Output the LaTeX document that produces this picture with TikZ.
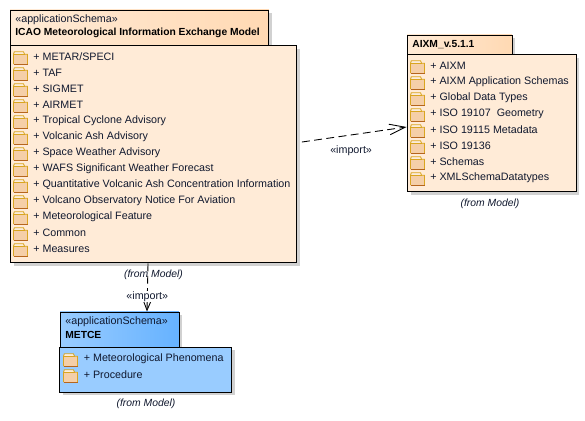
\documentclass[tikz,border=0pt]{standalone}
\usepackage{fontspec}
\setmainfont{Liberation Sans}
\usepackage{xcolor}
\usetikzlibrary{arrows.meta, shadows, positioning}

\definecolor{orangebody}{HTML}{FFEBD7}
\definecolor{orangetab}{HTML}{FFD9B3}
\definecolor{bluebody}{HTML}{99CCFF}
\definecolor{bluetab}{HTML}{66B2FF}
\definecolor{foldertop}{HTML}{D9A520}
\definecolor{folderbottom}{HTML}{B5651D}
\definecolor{folderfill}{HTML}{F5CFA8}
\definecolor{labeltext}{HTML}{10182E}

\tikzset{
    pkgshape/.style={draw, line width=0.55pt, inner sep=0pt,
        drop shadow={shadow xshift=0.07cm, shadow yshift=-0.07cm, fill=black!18, opacity=1}},
    rowtext/.style={anchor=west, inner sep=0pt, font=\fontsize{6.1}{7.2}\selectfont, text=labeltext},
    tabtext/.style={anchor=west, inner sep=0pt, font=\fontsize{6.1}{7.2}\selectfont, text=labeltext},
    titletext/.style={anchor=west, inner sep=0pt, font=\fontsize{5.85}{7}\selectfont\bfseries},
    fromtext/.style={inner sep=0pt, font=\fontsize{5.9}{7}\selectfont\itshape, text=labeltext},
    importline/.style={draw, line width=0.5pt, dash pattern=on 4.5pt off 2.5pt},
    folder/.pic={
        \fill[folderfill] (0, -2.5) rectangle (14, 7.5);
        \fill[white!60!folderfill] (0.5, -5) rectangle (10.5, -2.5);
        \draw[foldertop, line width=0.5pt] (0, 7.5) -- (0, -2.5) -- (0.8, -5) -- (10, -5) -- (11, -2.5) -- (14, -2.5) -- (14, 7.5);
        \draw[foldertop, line width=0.5pt] (0, -2.5) -- (11, -2.5);
        \draw[folderbottom, line width=0.7pt] (0, 7.5) -- (14, 7.5);
    }
}

\begin{document}
\begin{tikzpicture}[x=0.02cm, y=-0.02cm]
    \useasboundingbox (0, 0) rectangle (585, 421);

    \node[pkgshape, minimum width=5.18cm, minimum height=0.7cm, left color=orangebody, right color=orangetab] (icaotab) at (139.5, 27.5) {};
    \node[pkgshape, minimum width=5.74cm, minimum height=4.36cm, fill=orangebody] (icaobody) at (153.5, 154) {};
    \node[tabtext] (icaostereo) at (15, 20) {«applicationSchema»};
    \node[titletext] (icaotitle) at (15, 33) {ICAO Meteorological Information Exchange Model};
    \foreach \rowlabel [count=\i from 0] in {+ METAR/SPECI, + TAF, + SIGMET, + AIRMET, + Tropical Cyclone Advisory,
            + Volcanic Ash Advisory, + Space Weather Advisory, + WAFS Significant Weather Forecast,
            + Quantitative Volcanic Ash Concentration Information, + Volcano Observatory Notice For Aviation,
            + Meteorological Feature, + Common, + Measures} {
        \pic at (13.5, 56.7 + 16*\i) {folder};
        \node[rowtext] (icaorow\i) at (33, 56.7 + 16*\i) {\rowlabel};
    }
    \node[fromtext] (icaofrom) at (153.5, 274.5) {(from Model)};

    \node[pkgshape, minimum width=2.1cm, minimum height=0.38cm, left color=orangebody, right color=orangetab] (aixmtab) at (459.5, 44.5) {};
    \node[pkgshape, minimum width=3.38cm, minimum height=2.76cm, fill=orangebody] (aixmbody) at (491.5, 123) {};
    \node[titletext] (aixmtitle) at (412, 44.5) {AIXM\_v.5.1.1};
    \foreach \rowlabel [count=\i from 0] in {+ AIXM, + AIXM Application Schemas, + Global Data Types, + ISO 19107\ \ Geometry,
            + ISO 19115 Metadata, + ISO 19136, + Schemas, + XMLSchemaDatatypes} {
        \pic at (410.5, 65.7 + 16*\i) {folder};
        \node[rowtext] (aixmrow\i) at (430, 65.7 + 16*\i) {\rowlabel};
    }
    \node[fromtext] (aixmfrom) at (490, 203.5) {(from Model)};

    \node[pkgshape, minimum width=2.38cm, minimum height=0.7cm, left color=bluebody, right color=bluetab] (metcetab) at (119.5, 329.5) {};
    \node[pkgshape, minimum width=3.43cm, minimum height=0.9cm, fill=bluebody] (metcebody) at (145.5, 369.5) {};
    \node[tabtext] (metcestereo) at (65, 322) {«applicationSchema»};
    \node[titletext] (metcetitle) at (65, 334.5) {METCE};
    \foreach \rowlabel [count=\i from 0] in {+ Meteorological Phenomena, + Procedure} {
        \pic at (63.5, 358.7 + 16*\i) {folder};
        \node[rowtext] (metcerow\i) at (83.5, 358.7 + 16*\i) {\rowlabel};
    }
    \node[fromtext] (metcefrom) at (146, 403.5) {(from Model)};

    \draw[importline, -{Straight Barb[length=9pt, width=6pt, line width=0.5pt]}] ([xshift=0.09cm, yshift=0.24cm]icaobody.east) -- node[pos=0.47, below=0.2cm, inner sep=0pt, font=\fontsize{6.1}{7.2}\selectfont, text=labeltext] (importright) {«import»} ([yshift=-0.08cm]aixmbody.west);
    \draw[importline, -{Straight Barb[length=5pt, width=4pt, line width=0.5pt]}] ([xshift=-0.11cm]icaobody.south) -- node[pos=0.69, fill=white, inner sep=0.5pt, font=\fontsize{6.1}{7.2}\selectfont, text=labeltext] (importdown) {«import»} ([xshift=0.55cm]metcetab.north);
\end{tikzpicture}
\end{document}
